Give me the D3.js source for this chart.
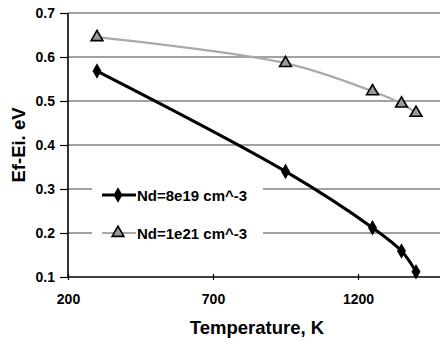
<!DOCTYPE html>
<html>
<head>
<meta charset="utf-8">
<script src="https://cdn.jsdelivr.net/npm/d3@7"></script>
<style>
  body { margin: 0; background: #fff; }
  svg { display: block; font-family: "Liberation Sans", Arial, sans-serif; font-weight: bold; }
</style>
</head>
<body>
<script>
// data
var temps1 = [300, 950, 1250, 1350, 1400];
var ef1 = [0.568, 0.340, 0.212, 0.159, 0.112];
var temps2 = [300, 950, 1250, 1350, 1400];
var ef2 = [0.645, 0.586, 0.522, 0.494, 0.473];
var seriesNames = ["Nd=8e19 cm^-3", "Nd=1e21 cm^-3"];
var xTicks = [200, 700, 1200];
var yTicks = [0.1, 0.2, 0.3, 0.4, 0.5, 0.6, 0.7];

var W = 440, H = 340;
var margin = {top: 13, right: -5, bottom: 63, left: 68};
var width = W - margin.left - margin.right,
    height = H - margin.top - margin.bottom;

var svg = d3.select("body").append("svg")
    .attr("width", W)
    .attr("height", H);

var g = svg.append("g")
    .attr("transform", "translate(" + margin.left + "," + margin.top + ")");

var x = d3.scaleLinear().domain([200, 1500]).range([0, width]);
var y = d3.scaleLinear().domain([0.1, 0.7]).range([height, 0]);

// gridlines
g.selectAll(".grid")
    .data(yTicks.slice(1))
    .enter().append("line")
    .attr("x1", 0).attr("x2", width)
    .attr("y1", function(d) { return y(d); })
    .attr("y2", function(d) { return y(d); })
    .attr("stroke", "#444")
    .attr("stroke-width", 1);

// axes
var yAxis = g.append("g")
    .call(d3.axisLeft(y).tickValues(yTicks).tickFormat(d3.format(".1f")).tickSize(8).tickPadding(5));
var xAxis = g.append("g")
    .attr("transform", "translate(0," + height + ")")
    .call(d3.axisBottom(x).tickValues(xTicks).tickFormat(d3.format("d")).tickSize(3).tickPadding(14));

[yAxis, xAxis].forEach(function(a) {
    a.select(".domain").attr("stroke", "#000").attr("stroke-width", 1.6);
    a.selectAll(".tick line").attr("stroke", "#000").attr("stroke-width", 1.2);
    a.selectAll("text").attr("fill", "#000").style("font-size", "14px").style("font-weight", "bold");
});
xAxis.selectAll(".tick line").attr("y1", -3).attr("y2", 3);
xAxis.select(".domain").attr("d", "M0,0H" + width);
yAxis.select(".domain").attr("d", "M0,0V" + height);

var line = d3.line()
    .x(function(d) { return x(d[0]); })
    .y(function(d) { return y(d[1]); })
    .curve(d3.curveCatmullRom.alpha(0.5));

var data1 = temps1.map(function(t, i) { return [t, ef1[i]]; });
var data2 = temps2.map(function(t, i) { return [t, ef2[i]]; });

// series 2 (gray, triangles)
g.append("path")
    .datum(data2)
    .attr("d", line)
    .attr("fill", "none")
    .attr("stroke", "#aaa")
    .attr("stroke-width", 2.2);

var tri = d3.symbol().type(d3.symbolTriangle).size(60);
var dia = d3.symbol().type(d3.symbolDiamond).size(70);

g.selectAll(".tri")
    .data(data2)
    .enter().append("path")
    .attr("d", tri)
    .attr("transform", function(d) { return "translate(" + x(d[0]) + "," + y(d[1]) + ")"; })
    .attr("fill", "#999")
    .attr("stroke", "#000")
    .attr("stroke-width", 1.6);

// series 1 (black, diamonds)
g.append("path")
    .datum(data1)
    .attr("d", line)
    .attr("fill", "none")
    .attr("stroke", "#000")
    .attr("stroke-width", 3);

g.selectAll(".dia")
    .data(data1)
    .enter().append("path")
    .attr("d", dia)
    .attr("transform", function(d) { return "translate(" + x(d[0]) + "," + y(d[1]) + ")"; })
    .attr("fill", "#000");

// legend
var leg = svg.append("g");
leg.append("rect")
    .attr("x", 92).attr("y", 180)
    .attr("width", 171).attr("height", 70)
    .attr("fill", "#fff");

var legRows = [
    {name: seriesNames[0], y: 195, stroke: "#000", sw: 3, sym: dia, fill: "#000", symStroke: "none"},
    {name: seriesNames[1], y: 233, stroke: "#aaa", sw: 2.2, sym: tri, fill: "#999", symStroke: "#000"}
];
legRows.forEach(function(r) {
    leg.append("line")
        .attr("x1", 102).attr("x2", 136)
        .attr("y1", r.y).attr("y2", r.y)
        .attr("stroke", r.stroke).attr("stroke-width", r.sw);
    leg.append("path")
        .attr("d", r.sym)
        .attr("transform", "translate(118," + r.y + ")")
        .attr("fill", r.fill)
        .attr("stroke", r.symStroke)
        .attr("stroke-width", 1.6);
    leg.append("text")
        .attr("x", 137).attr("y", r.y + 5.5)
        .style("font-size", "15px")
        .text(r.name);
});

// axis titles
svg.append("text")
    .attr("x", 257).attr("y", 334)
    .attr("text-anchor", "middle")
    .style("font-size", "18.5px")
    .text("Temperature, K");

svg.append("text")
    .attr("transform", "translate(25,145) rotate(-90)")
    .attr("text-anchor", "middle")
    .style("font-size", "18.5px")
    .text("Ef-Ei. eV");
</script>
</body>
</html>
